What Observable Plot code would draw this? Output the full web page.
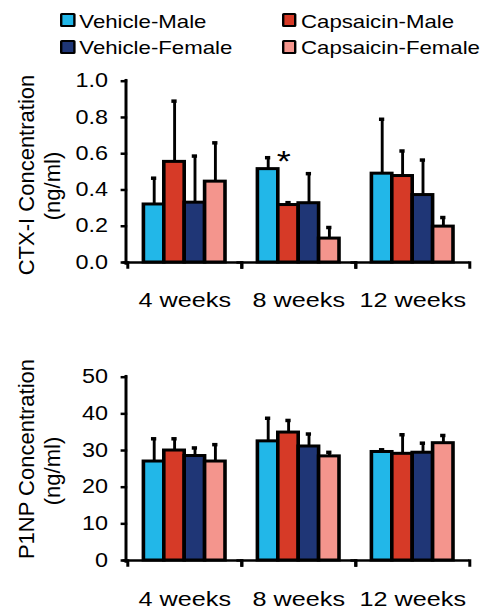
<!DOCTYPE html>
<html>
<head>
<meta charset="utf-8">
<script src="https://cdn.jsdelivr.net/npm/d3@7"></script>
<script src="https://cdn.jsdelivr.net/npm/@observablehq/plot@0.6"></script>
<style>
html, body { margin: 0; padding: 0; background: #fff; }
#page { position: relative; width: 486px; height: 613px; overflow: hidden; background: #fff;
  font-family: "Liberation Sans", Arial, sans-serif; color: #000; }
#stretch { position: absolute; left: 0; top: 0; width: 405px; height: 613px;
  transform: scaleX(1.2); transform-origin: 0 0; }
.sw { position: absolute; box-sizing: border-box; width: 12.5px; height: 14px;
  border: 2.5px solid #000; border-radius: 1.5px; }
.lt { position: absolute; font-size: 18.5px; line-height: 18.5px; white-space: nowrap; }
.yt { position: absolute; font-size: 22px; line-height: 26px; height: 26px; width: 260px;
  text-align: center; white-space: nowrap; transform: rotate(-90deg); transform-origin: 50% 50%; }
.chart { position: absolute; left: 0; }
.chart svg { display: block; }
</style>
</head>
<body>
<div id="page"><div id="stretch"></div></div>
<script>
// ---- categories ----
const weeks = ["4 weeks", "8 weeks", "12 weeks"];
const groups = ["Vehicle-Male", "Capsaicin-Male", "Vehicle-Female", "Capsaicin-Female"];
const groupColors = ["#22b7e8", "#d63a27", "#1f3676", "#f4958d"];

// ---- CTX-I concentration (ng/ml), per group, ordered by weeks ----
const ctxVehicleMale = [0.32, 0.515, 0.49];
const ctxCapsaicinMale = [0.555, 0.317, 0.477];
const ctxVehicleFemale = [0.33, 0.327, 0.372];
const ctxCapsaicinFemale = [0.446, 0.132, 0.198];
const ctxVehicleMaleErr = [0.145, 0.063, 0.30];
const ctxCapsaicinMaleErr = [0.335, 0.013, 0.138];
const ctxVehicleFemaleErr = [0.257, 0.163, 0.193];
const ctxCapsaicinFemaleErr = [0.214, 0.061, 0.05];
const ctxTicks = [0, 0.2, 0.4, 0.6, 0.8, 1.0];

// ---- P1NP concentration (ng/ml) ----
const p1npVehicleMale = [27.0, 32.5, 29.6];
const p1npCapsaicinMale = [30.0, 34.9, 29.1];
const p1npVehicleFemale = [28.5, 31.1, 29.4];
const p1npCapsaicinFemale = [27.0, 28.4, 32.0];
const p1npVehicleMaleErr = [6.2, 6.3, 0.6];
const p1npCapsaicinMaleErr = [3.2, 3.3, 5.2];
const p1npVehicleFemaleErr = [2.2, 3.4, 2.6];
const p1npCapsaicinFemaleErr = [4.6, 1.1, 2.1];
const p1npTicks = [0, 10, 20, 30, 40, 50];

// ---- significance annotation ----
const ctxStars = [{week: "8 weeks", group: "Vehicle-Male", label: "*"}];

function buildRows(means, errs) {
  const rows = [];
  groups.forEach((g, gi) => weeks.forEach((w, wi) => {
    rows.push({week: w, group: g, mean: means[gi][wi], err: errs[gi][wi], top: means[gi][wi] + errs[gi][wi]});
  }));
  return rows;
}

const FONT = '"Liberation Sans", Arial, sans-serif';

function barChart({rows, ticks, tickFormat, height, marginTop, labelPad, stars}) {
  const marginBottom = 53;
  const innerH = height - marginTop - marginBottom;
  const starRows = (stars || []).map(s => ({...s, top: rows.find(r => r.week === s.week && r.group === s.group).top}));
  const boundary = {stroke: "black", strokeWidth: 2.5, insetTop: innerH, insetBottom: -5};
  return Plot.plot({
    width: 405,
    height,
    marginTop,
    marginBottom,
    marginLeft: 105.5,
    marginRight: 13.3,
    style: {fontFamily: FONT, fontSize: "19.5px", color: "black", background: "transparent", overflow: "visible"},
    fx: {domain: weeks, padding: 0, label: null},
    x: {domain: groups, paddingInner: 0, paddingOuter: 0.7, axis: null},
    y: {domain: [ticks[0], ticks[ticks.length - 1]]},
    color: {domain: groups, range: groupColors},
    marks: [
      Plot.barY(rows, {fx: "week", x: "group", y: "mean", fill: "group", stroke: "black", strokeWidth: 3}),
      Plot.ruleX(rows, {fx: "week", x: "group", y1: "mean", y2: "top", stroke: "black", strokeWidth: 2.4}),
      Plot.tickY(rows, {fx: "week", x: "group", y: "top", stroke: "black", strokeWidth: 3.5, inset: 6.3}),
      Plot.ruleY([ticks[0]], {stroke: "black", strokeWidth: 2.5, insetLeft: -4}),
      Plot.frame({anchor: "left", ...boundary}),
      Plot.frame({anchor: "right", ...boundary}),
      Plot.frame({anchor: "left", facetAnchor: "left", stroke: "black", strokeWidth: 2.5, insetLeft: -1.5, insetTop: -1, insetBottom: -1}),
      Plot.axisY({ticks, tickFormat, tickSize: 5.5, tickPadding: 11, strokeWidth: 2.5, strokeLinecap: "butt", label: null, fontSize: 19.5}),
      Plot.axisFx({anchor: "bottom", tickSize: 0, tickPadding: labelPad, label: null, fontSize: 21}),
      Plot.text(starRows, {fx: "week", x: "group", y: "top", text: "label", fontSize: 30, dx: 13, dy: 4, lineAnchor: "middle"})
    ]
  });
}

const stretch = document.getElementById("stretch");
const page = document.getElementById("page");

// legend (above the charts)
const legendCols = [50, 234.75];
const legendRows = [13, 40];
const legendTextTop = [12.6, 38.6];
const legendOrder = [[0, 0], [1, 0], [0, 1], [1, 1]]; // [col,row] for each group
groups.forEach((g, i) => {
  const [c, r] = legendOrder[i];
  const sw = document.createElement("div");
  sw.className = "sw";
  sw.style.left = legendCols[c] + "px";
  sw.style.top = legendRows[r] + "px";
  sw.style.background = groupColors[i];
  stretch.appendChild(sw);
  const t = document.createElement("div");
  t.className = "lt";
  t.style.left = (legendCols[c] + 16.1) + "px";
  t.style.top = legendTextTop[r] + "px";
  t.textContent = g;
  stretch.appendChild(t);
});

// charts
const top1 = document.createElement("div");
top1.className = "chart";
top1.style.top = "60px";
top1.appendChild(barChart({
  rows: buildRows([ctxVehicleMale, ctxCapsaicinMale, ctxVehicleFemale, ctxCapsaicinFemale],
                  [ctxVehicleMaleErr, ctxCapsaicinMaleErr, ctxVehicleFemaleErr, ctxCapsaicinFemaleErr]),
  ticks: ctxTicks, tickFormat: ".1f", height: 255, marginTop: 20.7, labelPad: 30, stars: ctxStars
}));
stretch.appendChild(top1);

const top2 = document.createElement("div");
top2.className = "chart";
top2.style.top = "340px";
top2.appendChild(barChart({
  rows: buildRows([p1npVehicleMale, p1npCapsaicinMale, p1npVehicleFemale, p1npCapsaicinFemale],
                  [p1npVehicleMaleErr, p1npCapsaicinMaleErr, p1npVehicleFemaleErr, p1npCapsaicinFemaleErr]),
  ticks: p1npTicks, tickFormat: "d", height: 273, marginTop: 36.7, labelPad: 31, stars: []
}));
stretch.appendChild(top2);

// y-axis titles (rotated)
const titles = [
  {text: "CTX-I Concentration", cx: 27.4, cy: 175},
  {text: "(ng/ml)", cx: 52.8, cy: 186},
  {text: "P1NP Concentration", cx: 27.4, cy: 459},
  {text: "(ng/ml)", cx: 52.8, cy: 471}
];
titles.forEach(t => {
  const d = document.createElement("div");
  d.className = "yt";
  d.style.left = (t.cx - 130) + "px";
  d.style.top = (t.cy - 13) + "px";
  d.textContent = t.text;
  page.appendChild(d);
});
</script>
</body>
</html>
